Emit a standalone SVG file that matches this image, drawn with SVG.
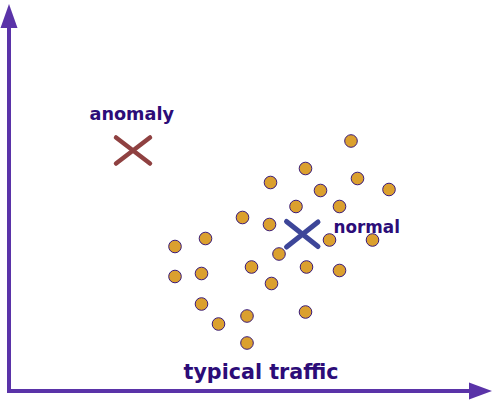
<svg xmlns="http://www.w3.org/2000/svg" width="496" height="402" viewBox="0 0 496 402">
<style>
.axis{stroke:#5a33a8;stroke-width:4;fill:none}
.head{fill:#5a33a8}
.dot{fill:#dba02e;stroke:#3a1c7a;stroke-width:1}
.lbl{font-family:"DejaVu Sans","Liberation Sans",sans-serif;font-weight:bold;fill:#2c0c78}
</style>
<rect width="496" height="402" fill="#ffffff"/>
<g id="connectors">
<line class="axis" x1="9" y1="393" x2="9" y2="24"/>
<polygon class="head" points="9,4 17.5,28 0.5,28"/>
<line class="axis" x1="7" y1="391" x2="472" y2="391"/>
<polygon class="head" points="492,391 469,382.5 469,399.5"/>
</g>
<g id="dots">
<circle class="dot" cx="351" cy="141" r="6.3"/>
<circle class="dot" cx="305.5" cy="168.5" r="6.3"/>
<circle class="dot" cx="357.5" cy="178.5" r="6.3"/>
<circle class="dot" cx="270.5" cy="182.5" r="6.3"/>
<circle class="dot" cx="320.5" cy="190.5" r="6.3"/>
<circle class="dot" cx="389" cy="189.5" r="6.3"/>
<circle class="dot" cx="296" cy="206.5" r="6.3"/>
<circle class="dot" cx="339.5" cy="206.5" r="6.3"/>
<circle class="dot" cx="242.5" cy="217.5" r="6.3"/>
<circle class="dot" cx="269.5" cy="224.5" r="6.3"/>
<circle class="dot" cx="205.5" cy="238.5" r="6.3"/>
<circle class="dot" cx="175" cy="246.5" r="6.3"/>
<circle class="dot" cx="329.5" cy="240" r="6.3"/>
<circle class="dot" cx="372.5" cy="240" r="6.3"/>
<circle class="dot" cx="279" cy="254" r="6.3"/>
<circle class="dot" cx="251.5" cy="267" r="6.3"/>
<circle class="dot" cx="306.5" cy="267" r="6.3"/>
<circle class="dot" cx="339.5" cy="270.5" r="6.3"/>
<circle class="dot" cx="175" cy="276.5" r="6.3"/>
<circle class="dot" cx="201.5" cy="273.5" r="6.3"/>
<circle class="dot" cx="271.5" cy="283.5" r="6.3"/>
<circle class="dot" cx="201.5" cy="304" r="6.3"/>
<circle class="dot" cx="247" cy="316" r="6.3"/>
<circle class="dot" cx="218.5" cy="324" r="6.3"/>
<circle class="dot" cx="305.5" cy="312" r="6.3"/>
<circle class="dot" cx="247" cy="343" r="6.3"/>
</g>
<g id="anomaly">
<path d="M116,137.5 L150,163.5 M116,163.5 L150,137.5" stroke="#8f4141" stroke-width="4.5" stroke-linecap="round" fill="none"/>
<text class="lbl" x="89.5" y="120" font-size="18" textLength="84.5" lengthAdjust="spacingAndGlyphs">anomaly</text>
</g>
<g id="normal">
<path d="M286.5,221.5 L318,246.5 M286.5,247 L318,222" stroke="#3d4699" stroke-width="5" stroke-linecap="round" fill="none"/>
<text class="lbl" x="333.5" y="232.5" font-size="18" textLength="66.5" lengthAdjust="spacingAndGlyphs">normal</text>
</g>
<g id="xlabel">
<text class="lbl" x="183.5" y="379" font-size="22" textLength="155" lengthAdjust="spacingAndGlyphs">typical traffic</text>
</g>
</svg>
